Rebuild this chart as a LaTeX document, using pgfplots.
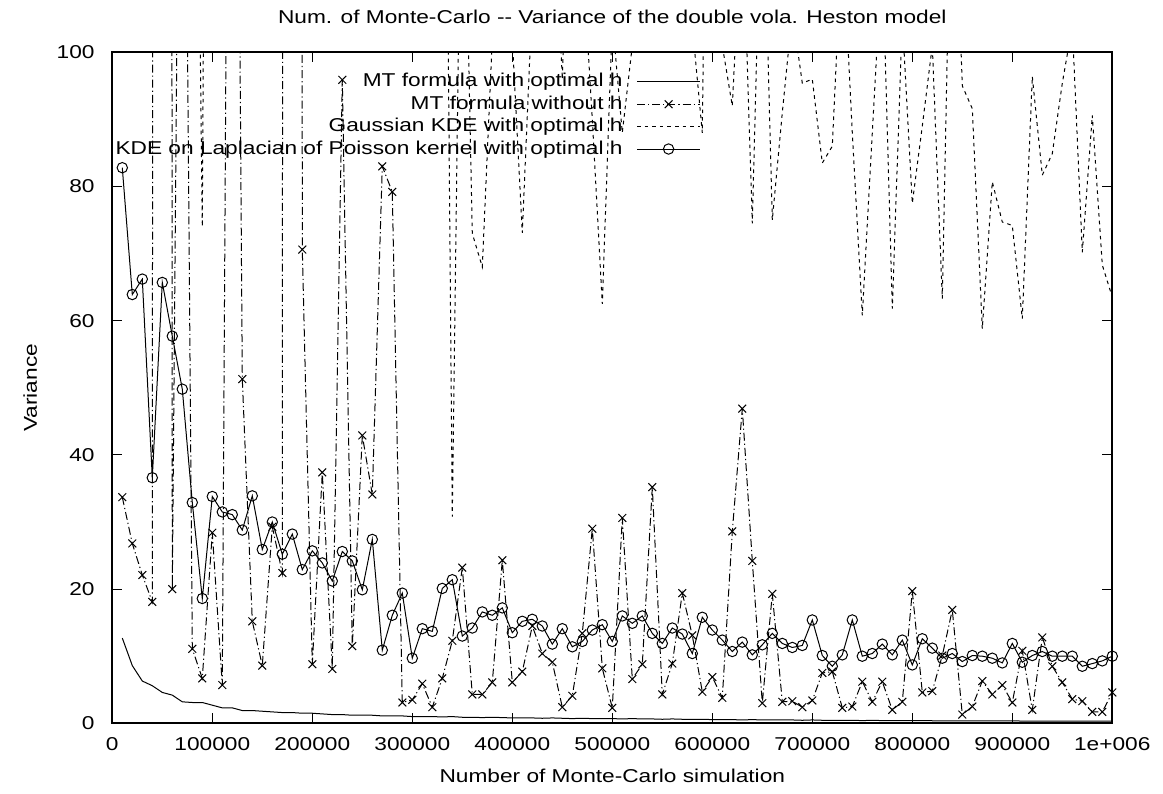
\documentclass[border=0pt]{standalone}
\usepackage{pgfplots}
\pgfplotsset{compat=1.18}
\usepackage{pgfplotstable}
\usepackage{fontspec}
\setmainfont[FakeStretch=1.22]{Liberation Sans}
\newcommand\ff{\fontsize{9.3pt}{11.2pt}\selectfont}

\pgfplotstableread{
x S X G C
10000 12.7 33.7 400 82.8
20000 8.6 26.8 350 63.9
30000 6.3 22.1 600 66.2
40000 5.6 18.1 300 36.6
50000 4.6 2500 450 65.7
60000 4.2 20.0 250 57.7
70000 3.2 200 500 49.8
80000 3.1 11.1 204 32.9
90000 3.1 6.7 74.0 18.6
100000 2.7 28.4 334 33.8
110000 2.3 5.7 300 31.5
120000 2.3 265 250 31.1
130000 1.9 51.3 400 28.8
140000 1.9 15.2 280 33.9
150000 1.8 8.6 350 25.9
160000 1.7 29.3 220 30.0
170000 1.6 22.4 300 25.2
180000 1.6 3000 450 28.2
190000 1.5 70.6 260 22.9
200000 1.5 8.8 380 25.7
210000 1.4 37.4 240 23.9
220000 1.3 8.1 330 21.2
230000 1.3 95.9 270 25.6
240000 1.2 11.5 420 24.2
250000 1.2 42.9 230 19.9
260000 1.2 34.1 310 27.4
270000 1.1 83.0 280 10.9
280000 1.1 79.2 360 16.1
290000 1.1 3.1 250 19.4
300000 1.0 3.5 300 9.7
310000 1.0 5.9 220 14.1
320000 1.0 2.4 280 13.7
330000 0.95 6.7 204 20.1
340000 1.0 12.3 30.8 21.4
350000 0.9 23.2 146 13.0
360000 0.9 4.3 73 14.2
370000 0.85 4.3 68 16.6
380000 0.9 6.1 102 16.1
390000 0.85 24.3 130 17.2
400000 0.8 6.1 102 13.5
410000 0.8 7.7 73.1 15.2
420000 0.8 14.5 108 15.5
430000 0.75 10.4 150 14.5
440000 0.8 9.1 130 11.8
450000 0.75 2.4 96 14.1
460000 0.7 4.1 140 11.4
470000 0.75 13.4 115 12.2
480000 0.7 29.0 90 13.9
490000 0.7 8.2 62.5 14.7
500000 0.7 2.3 105 12.2
510000 0.65 30.6 88 16.0
520000 0.7 6.6 101 14.9
530000 0.65 8.8 160 16.0
540000 0.65 35.2 220 13.4
550000 0.6 4.3 140 11.9
560000 0.65 8.9 250 14.2
570000 0.6 19.4 180 13.3
580000 0.6 13.1 104 10.4
590000 0.6 4.7 88 15.8
600000 0.55 6.9 208 13.9
610000 0.55 3.8 101 12.4
620000 0.55 28.6 92 10.7
630000 0.5 46.9 122 12.1
640000 0.55 24.2 74.5 10.2
650000 0.5 3.0 132 11.7
660000 0.5 19.3 75 13.4
670000 0.5 3.2 91 11.9
680000 0.5 3.3 106 11.3
690000 0.45 2.4 95.4 11.6
700000 0.5 3.4 96 15.4
710000 0.45 7.5 83.5 10.1
720000 0.45 7.7 86 8.5
730000 0.45 2.3 118 10.2
740000 0.45 2.5 88 15.4
750000 0.4 6.2 60.8 10.0
760000 0.45 3.2 88 10.4
770000 0.4 6.2 115 11.8
780000 0.4 2.0 61.8 10.2
790000 0.4 3.2 105 12.4
800000 0.4 19.7 77.5 8.7
810000 0.4 4.6 89 12.6
820000 0.38 4.8 101 11.2
830000 0.38 10.1 63.3 9.7
840000 0.38 16.9 137 10.4
850000 0.36 1.3 95 9.2
860000 0.36 2.5 91.6 10.1
870000 0.36 6.3 58.8 10.0
880000 0.35 4.3 80.7 9.7
890000 0.35 5.7 74.7 9.0
900000 0.35 3.1 74.2 11.9
910000 0.34 10.8 60.3 9.1
920000 0.34 2.0 96.4 10.1
930000 0.33 12.8 81.7 10.7
940000 0.33 8.5 84.9 10.0
950000 0.33 6.1 95.4 10.0
960000 0.32 3.6 104 10.0
970000 0.32 3.3 70.2 8.5
980000 0.32 1.7 90.6 8.9
990000 0.31 1.7 68.3 9.3
1000000 0.31 4.6 63.5 10.0
}\datatable

\begin{document}
\begin{tikzpicture}
\begin{axis}[
  scale only axis, width=500pt, height=335.5pt,
  xmin=0, xmax=1000000, ymin=0, ymax=100,
  scaled x ticks=false, scaled y ticks=false,
  xtick={0,100000,200000,300000,400000,500000,600000,700000,800000,900000,1000000},
  xticklabels={0,100000,200000,300000,400000,500000,600000,700000,800000,900000,1e+006},
  ytick={0,20,40,60,80,100},
  yticklabels={0,20,40,60,80,100},
  tick align=inside, major tick length=5pt,
  tick style={black, line width=0.5pt},
  axis line style={line width=1pt},
  xticklabel style={font=\ff, anchor=base, inner sep=0pt, yshift=-13.7pt},
  yticklabel style={font=\ff, anchor=east, inner sep=0pt, xshift=-8.7pt},
  every axis title/.style={font=\ff, at={(axis description cs:0.5,1.0432)}, anchor=base, inner sep=0pt},
  title={Num. of Monte-Carlo -{}- Variance of the double vola. Heston model},
  xlabel={Number of Monte-Carlo simulation},
  xlabel style={font=\ff, at={(axis description cs:0.5,-0.0879)}, anchor=base, inner sep=0pt},
  ylabel={Variance},
  ylabel style={font=\ff, at={(axis description cs:-0.082,0.5)}, anchor=center, inner sep=0pt},
  legend plot pos=right,
  legend cell align=right,
  legend style={at={(axis description cs:0.5887,0.970)}, anchor=north east, draw=none, fill=none,
    font=\ff, row sep=2.2pt, column sep=7pt, inner sep=0pt,
    nodes={inner sep=0pt, text height=7pt, text depth=2pt}},
  legend image code/.code={\draw[mark repeat=2,mark phase=2,#1] plot coordinates {(0pt,0pt) (15.75pt,0pt) (31.5pt,0pt)};},
]
\addplot[black, line width=0.5pt] table[x=x,y=S] {\datatable};
\addlegendentry{MT formula with optimal h}
\addplot[black, line width=0.5pt, dash pattern=on 4pt off 1.5pt on 0.6pt off 1.5pt, mark=x, mark size=2.75pt, mark options={solid}] table[x=x,y=X] {\datatable};
\addlegendentry{MT formula without h}
\addplot[black, line width=0.5pt, dash pattern=on 1.8pt off 2pt] table[x=x,y=G] {\datatable};
\addlegendentry{Gaussian KDE with optimal h}
\addplot[black, line width=0.5pt, mark=o, mark size=2.6pt, mark options={solid}] table[x=x,y=C] {\datatable};
\addlegendentry{KDE on Laplacian of Poisson kernel with optimal h}
\end{axis}
\pgfresetboundingbox
\path[use as bounding box] ([shift={(-56.15pt,-35.15pt)}]current axis.south west) rectangle ([shift={(25.35pt,26.15pt)}]current axis.north east);
\end{tikzpicture}
\end{document}
